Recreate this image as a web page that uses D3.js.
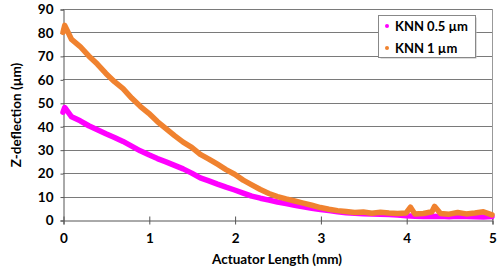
<!DOCTYPE html>
<html>
<head>
<meta charset="utf-8">
<script src="https://cdn.jsdelivr.net/npm/d3@7"></script>
<style>
  body { margin: 0; background: #fff; }
  text { font-family: Lato, "Open Sans", sans-serif; font-weight: bold; fill: #000; }
</style>
</head>
<body>
<svg id="chart" width="500" height="271"></svg>
<script>
// values, actuator length in mm
const lenThin = [0, 0.02, 0.1, 0.2, 0.3, 0.4, 0.5, 0.6, 0.7, 0.8, 0.9, 1.0, 1.1, 1.2, 1.3, 1.4, 1.5, 1.6, 1.7, 1.8, 1.9,
  2.0, 2.1, 2.2, 2.3, 2.4, 2.5, 2.6, 2.7, 2.8, 2.9, 3.0, 3.1, 3.2, 3.3, 3.4, 3.5, 3.6, 3.7, 3.8, 3.9,
  4.0, 4.1, 4.2, 4.3, 4.4, 4.5, 4.6, 4.7, 4.8, 4.9, 5.0]
const knn05 = [46, 48, 44, 42.3, 40.2, 38.5, 36.8, 35.2, 33.5, 31.5, 29.5, 27.8, 26.2, 24.8, 23.3, 21.8, 20, 18, 16.7, 15.3, 14,
  12.8, 11.5, 10.2, 9.3, 8.5, 7.7, 7, 6.3, 5.6, 5, 4.5, 4, 3.5, 3.1, 2.9, 2.7, 2.6, 2.5, 2.3, 2.1,
  1.8, 1.6, 1.5, 1.5, 1.6, 1.4, 1.6, 1.5, 1.4, 1.3, 1.5]

const lenThick = [0, 0.02, 0.1, 0.2, 0.3, 0.4, 0.5, 0.6, 0.7, 0.8, 0.9, 1.0, 1.1, 1.2, 1.3, 1.4, 1.5, 1.6, 1.7, 1.8, 1.9,
  2.0, 2.1, 2.2, 2.3, 2.4, 2.5, 2.6, 2.7, 2.8, 2.9, 3.0, 3.1, 3.2, 3.3, 3.4, 3.5, 3.6, 3.7, 3.8, 3.9,
  4.0, 4.05, 4.1, 4.2, 4.3, 4.33, 4.4, 4.5, 4.6, 4.7, 4.8, 4.9, 5.0]
const knn1 = [80, 83, 77, 74, 70, 66.5, 62.5, 59, 56, 52, 48.5, 45.5, 42, 39, 36, 33.2, 31, 28, 26, 23.8, 21.5,
  19.5, 17, 15, 13, 11.3, 10, 9, 8.1, 7.2, 6.3, 5.3, 4.6, 4.0, 3.6, 3.2, 3.4, 2.9, 3.3, 3.0, 2.8,
  3.0, 5.5, 2.6, 2.8, 3.5, 5.8, 2.8, 2.5, 3.2, 2.6, 3.0, 3.5, 2.2]

const seriesNames = ['KNN 0.5 µm', 'KNN 1 µm']
const seriesColors = ['#ff00ff', '#f0822f']
const xTicks = [0, 1, 2, 3, 4, 5]
const yTicks = [0, 10, 20, 30, 40, 50, 60, 70, 80, 90]

const svg = d3.select('#chart')
const x = d3.scaleLinear().domain([0, 5]).range([63, 492])
const y = d3.scaleLinear().domain([0, 90]).range([220, 9])

// gridlines
svg.append('g')
  .selectAll('line')
  .data(yTicks.slice(1))
  .join('line')
  .attr('x1', x(0)).attr('x2', x(5))
  .attr('y1', d => Math.round(y(d)) + 0.5).attr('y2', d => Math.round(y(d)) + 0.5)
  .attr('stroke', '#7a7a7a')

// right border of plot area
svg.append('line')
  .attr('x1', x(5) + 0.5).attr('x2', x(5) + 0.5)
  .attr('y1', y(90)).attr('y2', y(0))
  .attr('stroke', '#999')

const yAxis = svg.append('g')
  .attr('transform', `translate(${x(0) + 0.5},0.5)`)
  .call(d3.axisLeft(y).tickValues(yTicks).tickFormat(d3.format('d')).tickSize(3).tickPadding(7))
yAxis.select('.domain').attr('stroke', '#555')
yAxis.selectAll('.tick line').attr('stroke', '#555')
yAxis.selectAll('text').style('font-size', '13.5px').attr('fill', '#000')

const xAxis = svg.append('g')
  .attr('transform', `translate(0.5,${y(0) + 0.5})`)
  .call(d3.axisBottom(x).tickValues(xTicks).tickFormat(d3.format('d')).tickSize(4).tickPadding(9))
xAxis.select('.domain').attr('stroke', '#555')
xAxis.selectAll('.tick line').attr('stroke', '#555').attr('y1', -4)
xAxis.selectAll('text').style('font-size', '13.5px').attr('fill', '#000')

// data traces
const line = d3.line().x(d => x(d[0])).y(d => y(d[1]))
const series = [
  d3.zip(lenThin, knn05),
  d3.zip(lenThick, knn1)
]
svg.append('g')
  .selectAll('path')
  .data(series)
  .join('path')
  .attr('d', line)
  .attr('fill', 'none')
  .attr('stroke', (d, i) => seriesColors[i])
  .attr('stroke-width', 5.5)
  .attr('stroke-linejoin', 'round')
  .attr('stroke-linecap', 'round')

// axis titles
svg.append('text')
  .attr('x', 277).attr('y', 264)
  .attr('text-anchor', 'middle')
  .style('font-size', '13.5px')
  .text('Actuator Length (mm)')

svg.append('text')
  .attr('transform', 'translate(21,115) rotate(-90)')
  .attr('text-anchor', 'middle')
  .style('font-size', '13.5px')
  .text('Z-deflection (µm)')

// legend
const legend = svg.append('g')
legend.append('rect')
  .attr('x', 380.5).attr('y', 17.5).attr('width', 96).attr('height', 41)
  .attr('fill', '#bbb')
legend.append('rect')
  .attr('x', 378.5).attr('y', 15.5).attr('width', 97).attr('height', 42)
  .attr('fill', '#fff').attr('stroke', '#888')
const items = legend.selectAll('g.item')
  .data(seriesNames)
  .join('g')
  .attr('class', 'item')
  .attr('transform', (d, i) => `translate(387,${26 + i * 22})`)
items.append('circle')
  .attr('r', 2)
  .attr('fill', (d, i) => seriesColors[i])
items.append('text')
  .attr('x', 8).attr('y', 4.5)
  .style('font-size', '13px')
  .text(d => d)
</script>
</body>
</html>
